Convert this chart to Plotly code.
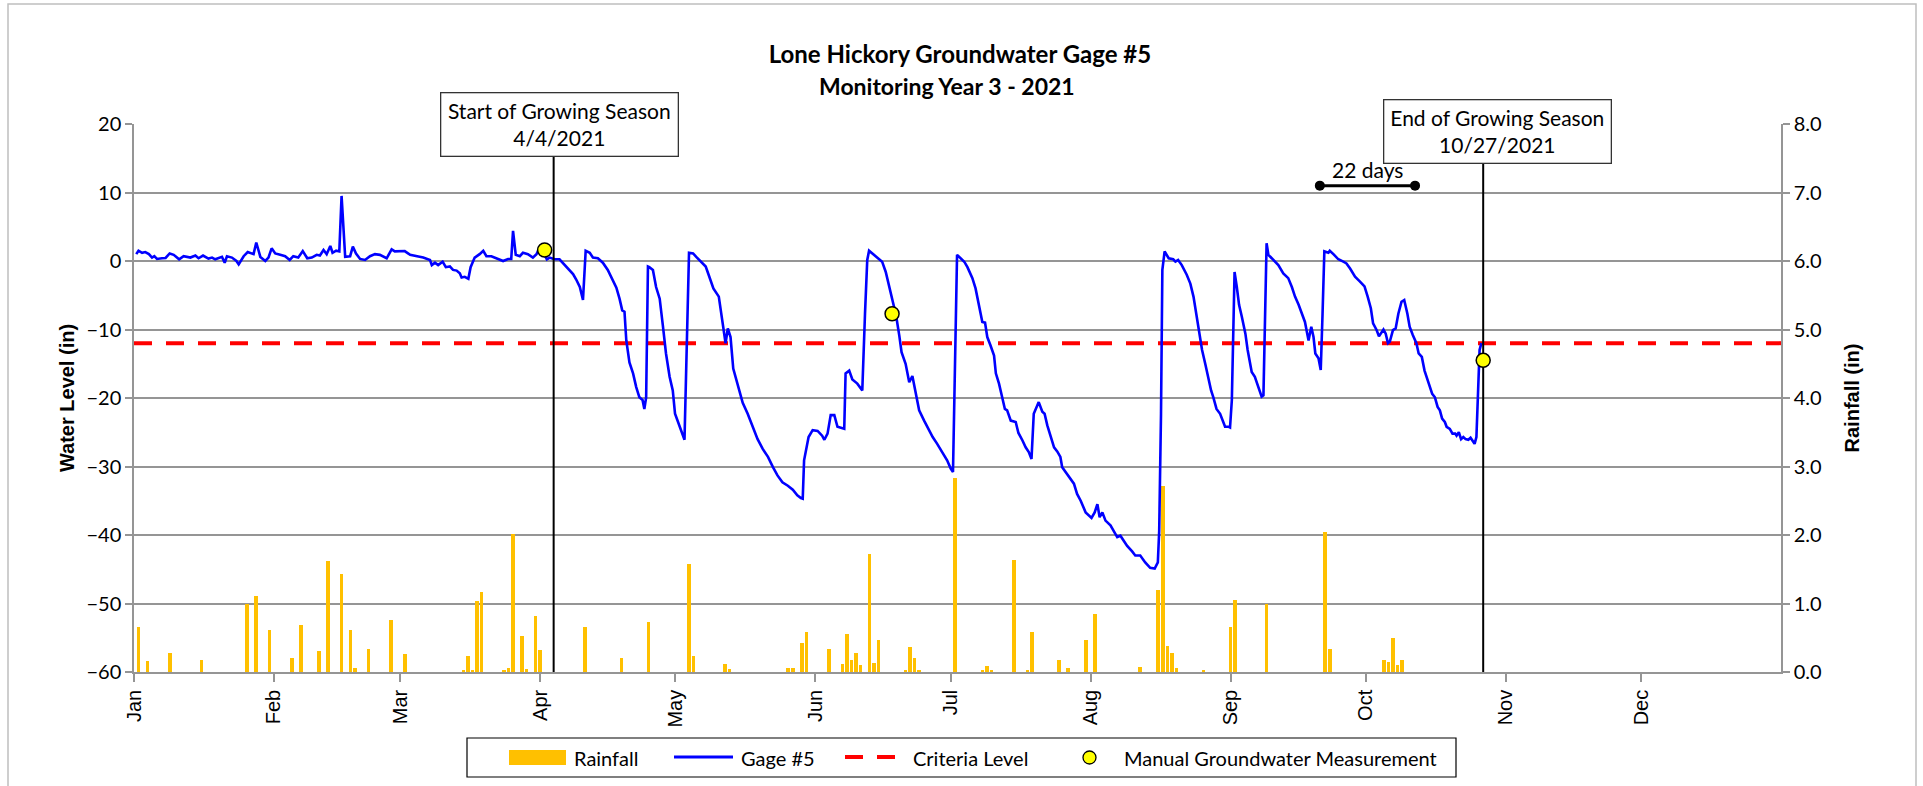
import pandas as pd
import plotly.graph_objects as go

# ------------------------------------------------------------------
# Data
# ------------------------------------------------------------------
month_starts = ["2021-01-01", "2021-02-01", "2021-03-01", "2021-04-01",
                "2021-05-01", "2021-06-01", "2021-07-01", "2021-08-01",
                "2021-09-01", "2021-10-01", "2021-11-01", "2021-12-01"]
month_labels = ["Jan", "Feb", "Mar", "Apr", "May", "Jun",
                "Jul", "Aug", "Sep", "Oct", "Nov", "Dec"]

# daily rainfall: day offset from Jan 1 and total (in)
rain_day = [1, 3, 8, 15, 25, 27, 30, 35, 37, 41, 43, 46, 48, 49, 52, 57, 60,
            73, 74, 75, 76, 77, 82, 83, 84, 86, 87, 89, 90, 100, 108, 114,
            123, 124, 131, 132, 145, 146, 148, 149, 154, 157, 158, 159, 160,
            161, 163, 164, 165, 171, 172, 173, 174, 182, 188, 189, 190, 195,
            198, 199, 205, 207, 211, 213, 223, 227, 228, 229, 230, 231, 237,
            243, 244, 251, 264, 265, 277, 278, 279, 280, 281]
rain_in = [0.66, 0.16, 0.28, 0.17, 0.99, 1.11, 0.62, 0.21, 0.68, 0.31, 1.62,
           1.43, 0.62, 0.06, 0.33, 0.76, 0.26,
           0.03, 0.23, 0.02, 1.03, 1.17, 0.03, 0.06, 2.01, 0.53, 0.05, 0.82,
           0.32, 0.66, 0.20, 0.73,
           1.57, 0.23, 0.12, 0.04, 0.06, 0.06, 0.42, 0.59, 0.34, 0.12, 0.55,
           0.17, 0.28,
           0.10, 1.72, 0.13, 0.46, 0.03, 0.37, 0.20, 0.03, 2.83, 0.02, 0.09,
           0.02, 1.63,
           0.03, 0.58, 0.18, 0.06, 0.46, 0.85, 0.08, 1.20, 2.72, 0.38, 0.28,
           0.06, 0.02,
           0.65, 1.05, 0.99, 2.05, 0.33, 0.17, 0.15, 0.50, 0.10, 0.17]

# gage #5 readings: (day offset from Jan 1, water level in)
gage_readings = [
    (0.5, 1.0), (1.0, 1.5), (1.8, 1.2), (2.5, 1.3), (3.3, 1.0), (4.0, 0.5),
    (4.5, 0.7), (5.1, 0.3), (6.2, 0.4), (7.0, 0.45), (7.9, 1.1), (8.8, 0.9),
    (10.0, 0.25), (11.0, 0.7), (12.5, 0.5), (13.6, 0.8), (14.3, 0.4),
    (15.3, 0.8), (16.5, 0.35), (17.3, 0.5), (18.0, 0.25), (19.5, 0.6),
    (20.1, -0.25), (20.6, 0.7), (21.7, 0.5), (22.7, 0.0), (23.2, -0.5),
    (24.3, 0.7), (25.2, 1.3), (26.5, 1.0), (27.1, 2.7), (28.0, 0.6),
    (29.1, 0.0), (29.8, 0.5), (30.5, 1.85), (31.3, 1.1), (32.4, 0.9),
    (33.5, 0.7), (34.5, 0.15), (35.3, 0.7), (36.4, 0.5), (37.4, 1.45),
    (38.4, 0.4), (39.4, 0.5), (40.5, 0.9), (41.2, 0.8), (42.0, 1.6),
    (42.7, 1.0), (43.5, 2.2), (44.0, 1.2), (44.8, 1.5), (45.5, 1.4),
    (46.0, 9.5), (46.8, 0.6), (47.9, 0.7), (48.5, 2.1), (49.2, 1.1),
    (50.1, 0.3), (51.2, 0.15), (52.3, 0.7), (53.4, 1.0), (54.5, 0.9),
    (56.0, 0.4), (57.1, 1.7), (57.8, 1.4), (59.0, 1.4), (60.0, 1.45),
    (61.2, 0.9), (62.6, 0.7), (64.1, 0.5), (65.6, 0.15), (66.0, -0.6),
    (66.7, -0.25), (67.4, -0.6), (68.4, -0.1), (69.1, -0.9), (70.0, -0.8),
    (70.7, -1.3), (71.5, -1.4), (72.2, -1.8), (72.6, -2.4), (73.3, -2.3),
    (74.1, -2.6), (74.6, -0.9), (75.5, 0.5), (76.6, 1.0), (77.4, 1.5),
    (78.1, 0.7), (79.2, 0.7), (80.3, 0.4), (81.8, 0.0), (82.9, 0.3),
    (83.6, 0.3), (84.0, 4.4), (84.6, 0.9), (85.5, 0.7), (86.2, 1.2),
    (87.3, 1.0), (88.4, 0.5), (89.2, 1.0), (89.6, 1.6),
    (90.6, 1.4), (91.5, 0.25), (92.1, 0.5), (93.2, 0.25), (94.3, 0.25),
    (95.4, -0.6), (96.5, -1.4), (97.3, -1.9), (98.0, -2.7), (98.8, -3.8),
    (99.5, -5.7), (100.1, 1.5), (101.0, 1.2), (101.7, 0.5), (102.8, 0.4),
    (103.9, -0.25), (105.0, -1.3), (106.0, -2.7), (106.9, -3.9),
    (107.6, -5.5), (108.2, -7.2), (108.7, -7.4), (109.1, -11.6),
    (109.8, -14.8), (110.6, -16.4), (111.3, -18.4), (112.0, -19.9),
    (112.7, -20.3), (113.1, -21.6), (113.5, -19.9), (113.9, -0.8),
    (114.2, -0.9), (115.0, -1.3), (115.7, -3.8), (116.5, -5.5),
    (117.2, -9.4), (117.9, -13.5), (118.7, -16.9), (119.4, -18.9),
    (119.9, -22.3), (120.9, -24.2), (121.5, -25.2), (122.0, -26.1),
    (123.0, 1.2), (123.9, 1.1), (124.6, 0.6), (125.7, -0.1), (126.7, -0.8),
    (127.5, -2.3), (128.4, -4.0), (129.6, -5.2), (130.1, -7.7),
    (130.8, -10.6), (131.1, -12.0), (131.6, -9.85), (132.2, -11.1),
    (132.8, -15.7), (133.8, -17.9), (134.9, -20.7), (136.0, -22.3),
    (137.1, -24.2), (138.2, -26.0), (139.3, -27.4), (140.5, -28.6),
    (141.6, -30.1), (142.6, -31.3), (143.7, -32.3), (144.9, -32.8),
    (146.0, -33.4), (147.0, -34.2), (147.8, -34.6), (148.2, -34.7),
    (148.5, -29.1), (149.5, -25.7), (150.4, -24.7), (151.5, -24.8),
    (152.5, -25.5), (153.0, -26.1), (153.7, -25.2), (154.4, -22.5),
    (155.2, -22.5), (155.9, -24.2), (157.4, -24.5), (157.7, -16.4),
    (158.5, -16.0), (159.2, -17.3), (160.3, -17.9), (161.4, -18.9),
    (162.0, -7.7), (162.5, 0.15), (162.9, 1.5), (164.0, 0.9), (165.1, 0.25),
    (165.8, -0.1), (166.6, -1.6), (167.4, -3.8), (168.2, -5.9),
    (168.9, -8.0), (169.6, -10.9), (170.1, -13.3), (171.0, -15.0),
    (171.8, -17.7), (172.5, -16.8), (173.2, -19.1), (174.0, -21.8),
    (175.1, -23.3), (176.2, -24.7),
    (177.0, -25.7), (178.0, -26.7), (179.1, -27.9), (180.2, -29.1),
    (181.0, -30.3), (181.5, -30.8), (182.4, 0.9), (183.2, 0.4),
    (184.0, -0.1), (184.7, -0.9), (185.8, -2.5), (186.5, -4.0),
    (187.3, -6.4), (188.0, -8.9), (188.6, -9.0), (189.1, -11.1),
    (189.8, -12.3), (190.6, -13.8), (191.0, -16.4), (191.7, -17.9),
    (192.4, -19.9), (193.0, -21.6), (193.5, -21.8), (194.3, -23.3),
    (195.4, -23.5), (196.0, -25.1), (196.9, -26.2), (197.6, -27.2),
    (198.3, -27.9), (198.9, -28.9), (199.4, -22.3), (200.5, -20.6),
    (201.3, -22.0), (201.8, -22.3), (202.4, -24.0), (203.1, -25.5),
    (203.9, -27.2), (204.6, -27.8), (205.3, -28.6), (205.7, -30.1),
    (206.8, -31.1), (207.5, -31.6), (208.3, -32.5), (209.0, -34.0),
    (209.8, -35.0), (210.9, -36.7), (212.2, -37.5), (212.9, -36.7),
    (213.5, -35.5), (214.0, -37.4), (214.6, -36.7), (215.3, -37.9),
    (216.4, -38.6), (217.1, -39.4), (217.9, -40.3), (218.6, -40.1),
    (219.3, -40.8), (220.1, -41.6), (221.2, -42.4), (221.9, -43.0),
    (223.0, -43.0), (224.1, -44.0), (225.2, -44.8), (226.2, -44.9),
    (226.9, -44.0), (227.2, -39.4), (227.6, -22.3), (227.9, -1.3),
    (228.4, 1.4), (229.3, 0.4), (230.3, 0.25), (230.8, -0.1), (231.4, 0.15),
    (232.2, -0.6), (233.3, -2.0), (234.1, -3.3), (234.8, -5.2),
    (235.5, -7.9), (236.1, -10.6), (236.7, -13.0), (237.4, -15.0),
    (238.1, -17.2), (238.7, -18.9), (239.2, -19.9), (239.9, -21.6),
    (240.7, -22.3), (241.1, -23.0), (241.8, -24.2), (242.6, -24.2),
    (242.9, -24.3), (243.3, -20.3), (243.9, -1.6), (244.4, -3.8),
    (244.9, -6.4), (245.5, -8.1), (246.3, -10.6), (246.8, -13.0),
    (247.7, -16.2), (248.4, -16.9), (249.2, -18.4), (249.9, -19.8),
    (250.3, -19.6), (250.7, -7.7), (251.0, 2.6), (251.4, 0.9),
    (252.5, 0.15), (253.6, -0.6), (254.7, -1.8), (255.8, -2.5),
    (256.6, -3.8), (257.3, -5.2), (258.1, -6.4), (258.8, -7.7),
    (259.5, -8.9), (260.3, -11.6), (260.9, -9.6), (261.4, -11.1),
    (261.8, -13.5), (262.5, -14.2), (263.0, -15.9), (263.4, -7.7),
    (263.8, 1.4), (264.7, 1.2), (265.0, 1.5), (265.8, 1.0),
    (266.9, 0.25), (268.0, -0.1), (268.7, -0.35), (269.5, -1.1),
    (270.6, -2.3), (271.7, -3.0), (272.7, -3.7), (273.4, -5.2),
    (274.1, -6.9), (274.6, -9.1), (275.4, -10.1), (275.9, -11.0),
    (276.9, -10.0), (277.4, -10.6), (277.9, -12.0), (278.3, -11.8),
    (279.0, -10.1), (279.6, -9.85), (280.2, -7.7), (280.9, -5.95),
    (281.5, -5.7), (282.2, -7.7), (282.7, -9.6), (283.4, -10.8),
    (284.2, -12.0), (284.7, -13.5), (285.4, -14.0), (286.0, -16.0),
    (286.7, -17.4), (287.2, -18.1), (287.7, -19.4), (288.3, -19.9),
    (288.9, -21.3), (289.4, -21.8), (289.9, -23.0), (290.5, -23.5),
    (290.9, -24.2), (291.6, -24.5), (292.2, -25.2), (292.8, -25.2),
    (293.1, -25.5), (293.6, -25.0), (294.1, -26.0), (294.6, -25.7),
    (295.1, -26.0), (295.7, -26.1), (296.2, -25.8), (296.8, -26.4),
    (297.1, -26.7), (297.5, -25.7), (297.9, -18.4), (298.2, -13.0),
    (298.6, -12.0),
]

manual_day = [91, 168, 299]
manual_level = [1.6, -7.7, -14.5]

criteria_level = -12.0

season_start = "2021-04-04"
season_end = "2021-10-27"
season_start_text = "Start of Growing Season<br>4/4/2021"
season_end_text = "End of Growing Season<br>10/27/2021"

count_day = [262.8, 283.9]
count_level = 11.0
count_text = "22 days"

water_ticks = [-60, -50, -40, -30, -20, -10, 0, 10, 20]
rain_ticks = [0, 1, 2, 3, 4, 5, 6, 7, 8]

title_text = "<b>Lone Hickory Groundwater Gage #5</b>"
subtitle_text = "<b>Monitoring Year 3 - 2021</b>"

# ------------------------------------------------------------------
# Helpers
# ------------------------------------------------------------------
YEAR0 = pd.Timestamp("2021-01-01")
YEAR1 = pd.Timestamp("2022-01-01")


def to_dates(days):
    return [YEAR0 + pd.Timedelta(days=float(d)) for d in days]


W, H = 1923, 786
ML, MR, MT, MB = 134, 142, 124, 114
PW, PH = W - ML - MR, H - MT - MB


def px(x):
    """pixel column -> paper x"""
    return (x - ML) / PW


def py(y):
    """pixel row -> paper y"""
    return (H - MB - y) / PH


GRID = "#959595"
BODY = "Lato"
ARIAL = "Liberation Sans, Arial"

gage_day = [d for d, _ in gage_readings]
gage_level = [v for _, v in gage_readings]

# ------------------------------------------------------------------
# Traces
# ------------------------------------------------------------------
fig = go.Figure()

fig.add_trace(go.Bar(
    name="Rainfall", x=to_dates(rain_day), y=rain_in, yaxis="y",
    marker=dict(color="#FFC000", line=dict(width=0)),
    width=0.8 * 86400000,
))

fig.add_trace(go.Scatter(
    name="Criteria Level", x=[YEAR0, YEAR1], y=[criteria_level, criteria_level],
    yaxis="y2", mode="lines",
    line=dict(color="#FF0000", width=4, dash="18px,14px"),
))

fig.add_trace(go.Scatter(
    name="Gage #5", x=to_dates(gage_day), y=gage_level, yaxis="y2",
    mode="lines", line=dict(color="#0000FF", width=2.6),
))

for d in (season_start, season_end):
    fig.add_trace(go.Scatter(
        x=[d, d], y=[water_ticks[0], water_ticks[-1]], yaxis="y2",
        mode="lines", line=dict(color="black", width=2), showlegend=False,
        hoverinfo="skip",
    ))

fig.add_trace(go.Scatter(
    x=to_dates(count_day), y=[count_level, count_level], yaxis="y2",
    mode="lines+markers", line=dict(color="black", width=3),
    marker=dict(color="black", size=10), showlegend=False, hoverinfo="skip",
))

fig.add_trace(go.Scatter(
    name="Manual Groundwater Measurement", x=to_dates(manual_day),
    y=manual_level, yaxis="y2", mode="markers",
    marker=dict(color="#FFFF00", size=14, line=dict(color="black", width=1.5)),
))

# ------------------------------------------------------------------
# Annotations and shapes
# ------------------------------------------------------------------
annotations = [
    dict(text=subtitle_text, x=px(947), y=py(86), xref="paper", yref="paper",
         xanchor="center", yanchor="middle", showarrow=False,
         font=dict(family=BODY, size=23, color="black")),
    dict(text=season_start_text, x=season_start, y=water_ticks[-1],
         xref="x", yref="y2", xshift=6, showarrow=False,
         font=dict(family=BODY, size=21, color="black"),
         bgcolor="white", bordercolor="#333333", borderwidth=1.3,
         borderpad=5, width=226, height=52, align="center"),
    dict(text=season_end_text, x=season_end, y=water_ticks[-1],
         xref="x", yref="y2", xshift=14, yshift=-7, showarrow=False,
         font=dict(family=BODY, size=21, color="black"),
         bgcolor="white", bordercolor="#333333", borderwidth=1.3,
         borderpad=5, width=216, height=52, align="center"),
    dict(text=count_text, x=YEAR0 + pd.Timedelta(days=sum(count_day) / 2),
         y=count_level, xref="x", yref="y2", yshift=16, showarrow=False,
         font=dict(family=BODY, size=21, color="black")),
]

shapes = [
    # outer chart frame
    dict(type="rect", xref="paper", yref="paper",
         x0=px(8), x1=px(1916), y0=py(800), y1=py(4),
         line=dict(color="#BFBFBF", width=1.5), fillcolor="rgba(0,0,0,0)",
         layer="below"),
    # legend frame
    dict(type="rect", xref="paper", yref="paper",
         x0=px(467), x1=px(1456), y0=py(777), y1=py(738),
         line=dict(color="black", width=1.2), fillcolor="white"),
    # legend keys
    dict(type="rect", xref="paper", yref="paper",
         x0=px(509), x1=px(566), y0=py(765), y1=py(750),
         line=dict(width=0), fillcolor="#FFC000"),
    dict(type="line", xref="paper", yref="paper",
         x0=px(674), x1=px(733), y0=py(757), y1=py(757),
         line=dict(color="#0000FF", width=3)),
    dict(type="line", xref="paper", yref="paper",
         x0=px(845), x1=px(895), y0=py(757), y1=py(757),
         line=dict(color="#FF0000", width=4, dash="18px,14px")),
    dict(type="circle", xref="paper", yref="paper",
         x0=px(1083), x1=px(1096), y0=py(764), y1=py(751),
         line=dict(color="black", width=1.3), fillcolor="#FFFF00"),
]

legend_labels = [("Rainfall", 572), ("Gage #5", 739),
                 ("Criteria Level", 911),
                 ("Manual Groundwater Measurement", 1122)]
for label, xpix in legend_labels:
    annotations.append(dict(
        text=label, x=px(xpix), y=py(757.5), xref="paper", yref="paper",
        xanchor="left", yanchor="middle", showarrow=False,
        font=dict(family=BODY, size=20, color="black")))

# ------------------------------------------------------------------
# Layout
# ------------------------------------------------------------------
fig.update_layout(
    width=W, height=H,
    margin=dict(l=ML, r=MR, t=MT, b=MB),
    paper_bgcolor="white", plot_bgcolor="white",
    showlegend=False,
    font=dict(family=BODY, size=20, color="black"),
    title=dict(text=title_text, x=0.4992, xref="container", xanchor="center",
               y=1 - 55 / H, yref="container", yanchor="middle",
               font=dict(family=BODY, size=24, color="black")),
    bargap=0,
    xaxis=dict(
        type="date", range=[YEAR0, YEAR1],
        tickvals=month_starts, ticktext=month_labels, tickangle=-90,
        ticks="outside", ticklen=8, tickwidth=1.5, tickcolor=GRID,
        showline=True, linecolor=GRID, linewidth=1.5,
        showgrid=False, zeroline=False,
        tickfont=dict(family=ARIAL, size=20, color="black"),
    ),
    yaxis=dict(
        side="right", range=[rain_ticks[0], rain_ticks[-1]],
        tickvals=rain_ticks, tickformat=".1f",
        ticks="outside", ticklen=7, tickwidth=1.5, tickcolor=GRID,
        showline=True, linecolor=GRID, linewidth=1.5,
        showgrid=True, gridcolor=GRID, gridwidth=1.5, zeroline=False,
        tickfont=dict(family=BODY, size=20, color="black"),
        title=dict(text="<b>Rainfall (in)</b>", standoff=24,
                   font=dict(family=ARIAL, size=20, color="black")),
    ),
    yaxis2=dict(
        overlaying="y", side="left", range=[water_ticks[0], water_ticks[-1]],
        tickvals=water_ticks,
        ticks="outside", ticklen=7, tickwidth=1.5, tickcolor=GRID,
        showline=True, linecolor=GRID, linewidth=1.5,
        showgrid=False, zeroline=False,
        tickfont=dict(family=BODY, size=20, color="black"),
        title=dict(text="<b>Water Level (in)</b>", standoff=6,
                   font=dict(family=ARIAL, size=20, color="black")),
    ),
    annotations=annotations,
    shapes=shapes,
)

fig.write_html("out.html")
